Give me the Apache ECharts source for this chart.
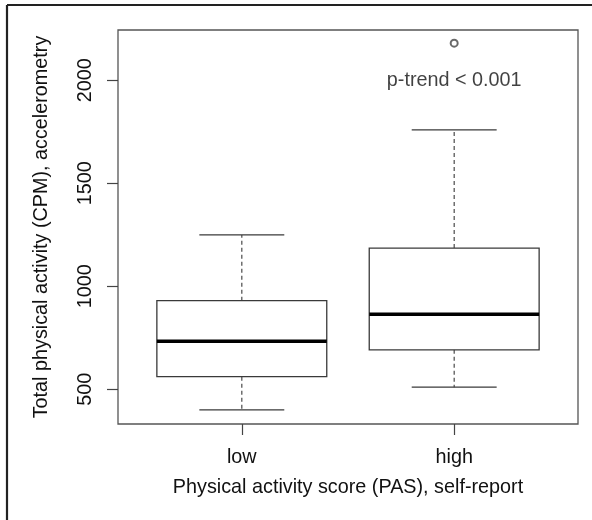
<!DOCTYPE html>
<html>
<head>
<meta charset="utf-8">
<script src="https://cdn.jsdelivr.net/npm/echarts@6/dist/echarts.min.js"></script>
<style>
  html, body { margin: 0; padding: 0; background: #fff; }
  #chart { width: 592px; height: 520px; }
</style>
</head>
<body>
<div id="chart"></div>
<script>
// box summary per group
const categories = ['low', 'high'];
const positions = [1, 2];
const lowerWhisker = [400, 510];
const q1 = [561, 691];
const median = [733, 864];
const q3 = [930, 1185];
const upperWhisker = [1249, 1759];
const outliers = [[2, 2180]];
const yTicks = [500, 1000, 1500, 2000];
const annotation = { x: 2, y: 2000, text: 'p-trend < 0.001' };

const font = "'Liberation Sans', Arial, sans-serif";
const fontSize = 19.8;
const textColor = '#111';
const lineColor = '#3a3a3a';

const boxData = positions.map((p, i) => [p, lowerWhisker[i], q1[i], median[i], q3[i], upperWhisker[i]]);

const chart = echarts.init(document.getElementById('chart'), null, { renderer: 'canvas' });

const renderBox = (params, api) => {
  const x = api.value(0);
  const half = api.size([0.4, 0])[0];
  const cap = half / 2;
  const lo = api.coord([x, api.value(1)]);
  const b1 = api.coord([x, api.value(2)]);
  const md = api.coord([x, api.value(3)]);
  const b3 = api.coord([x, api.value(4)]);
  const hi = api.coord([x, api.value(5)]);
  const cx = md[0];
  const dashed = { stroke: '#4a4a4a', lineWidth: 1.2, lineDash: [4, 3] };
  const solid = { stroke: lineColor, lineWidth: 1.3 };
  return {
    type: 'group',
    children: [
      { type: 'line', shape: { x1: cx, y1: b1[1], x2: cx, y2: lo[1] }, style: dashed },
      { type: 'line', shape: { x1: cx, y1: b3[1], x2: cx, y2: hi[1] }, style: dashed },
      { type: 'line', shape: { x1: cx - cap, y1: lo[1], x2: cx + cap, y2: lo[1] }, style: solid },
      { type: 'line', shape: { x1: cx - cap, y1: hi[1], x2: cx + cap, y2: hi[1] }, style: solid },
      {
        type: 'rect',
        shape: { x: cx - half, y: b3[1], width: half * 2, height: b1[1] - b3[1] },
        style: { fill: '#fff', stroke: lineColor, lineWidth: 1.3 }
      },
      { type: 'line', shape: { x1: cx - half, y1: md[1], x2: cx + half, y2: md[1] }, style: { stroke: '#000', lineWidth: 3.5 } }
    ]
  };
};

const option = {
  animation: false,
  backgroundColor: '#fff',
  textStyle: { fontFamily: font },
  grid: {
    left: 118, right: 14, top: 30, bottom: 96,
    show: true, borderColor: '#555', borderWidth: 1.3, backgroundColor: 'transparent'
  },
  xAxis: {
    type: 'value',
    min: 0.417,
    max: 2.583,
    splitLine: { show: false },
    axisLine: { show: false },
    axisTick: { show: true, length: 11, customValues: positions, lineStyle: { color: '#444', width: 1.2 } },
    axisLabel: {
      customValues: positions,
      formatter: v => categories[positions.indexOf(v)],
      margin: 23.5, fontSize: fontSize, color: textColor, fontFamily: font
    },
    name: 'Physical activity score (PAS), self-report',
    nameLocation: 'middle',
    nameGap: 54,
    nameTextStyle: { fontSize: fontSize, color: textColor, fontFamily: font }
  },
  yAxis: {
    type: 'value',
    min: 331,
    max: 2244,
    splitLine: { show: false },
    axisLine: { show: false },
    axisTick: { show: true, length: 11, customValues: yTicks, lineStyle: { color: '#444', width: 1.2 } },
    axisLabel: {
      customValues: yTicks,
      formatter: v => String(v),
      rotate: 90,
      margin: 22.5, fontSize: fontSize, color: textColor, fontFamily: font
    },
    name: 'Total physical activity (CPM), accelerometry',
    nameLocation: 'middle',
    nameGap: 66,
    nameTextStyle: { fontSize: fontSize, color: textColor, fontFamily: font }
  },
  graphic: [
    { type: 'line', shape: { x1: 7, y1: 5, x2: 7, y2: 520 }, style: { stroke: '#222', lineWidth: 2.2 } },
    { type: 'line', shape: { x1: 7, y1: 5, x2: 592, y2: 5 }, style: { stroke: '#222', lineWidth: 2.2 } }
  ],
  series: [
    {
      type: 'custom',
      renderItem: renderBox,
      data: boxData,
      encode: { x: 0, y: [1, 2, 3, 4, 5] }
    },
    {
      type: 'scatter',
      data: outliers,
      symbol: 'emptyCircle',
      symbolSize: 7,
      itemStyle: { color: '#444', borderWidth: 1.2 }
    },
    {
      type: 'scatter',
      data: [[annotation.x, annotation.y]],
      symbolSize: 1,
      itemStyle: { color: 'transparent' },
      label: {
        show: true, position: 'inside', formatter: annotation.text,
        fontSize: fontSize, color: textColor, fontFamily: font
      }
    }
  ]
};

chart.setOption(option);
</script>
</body>
</html>
